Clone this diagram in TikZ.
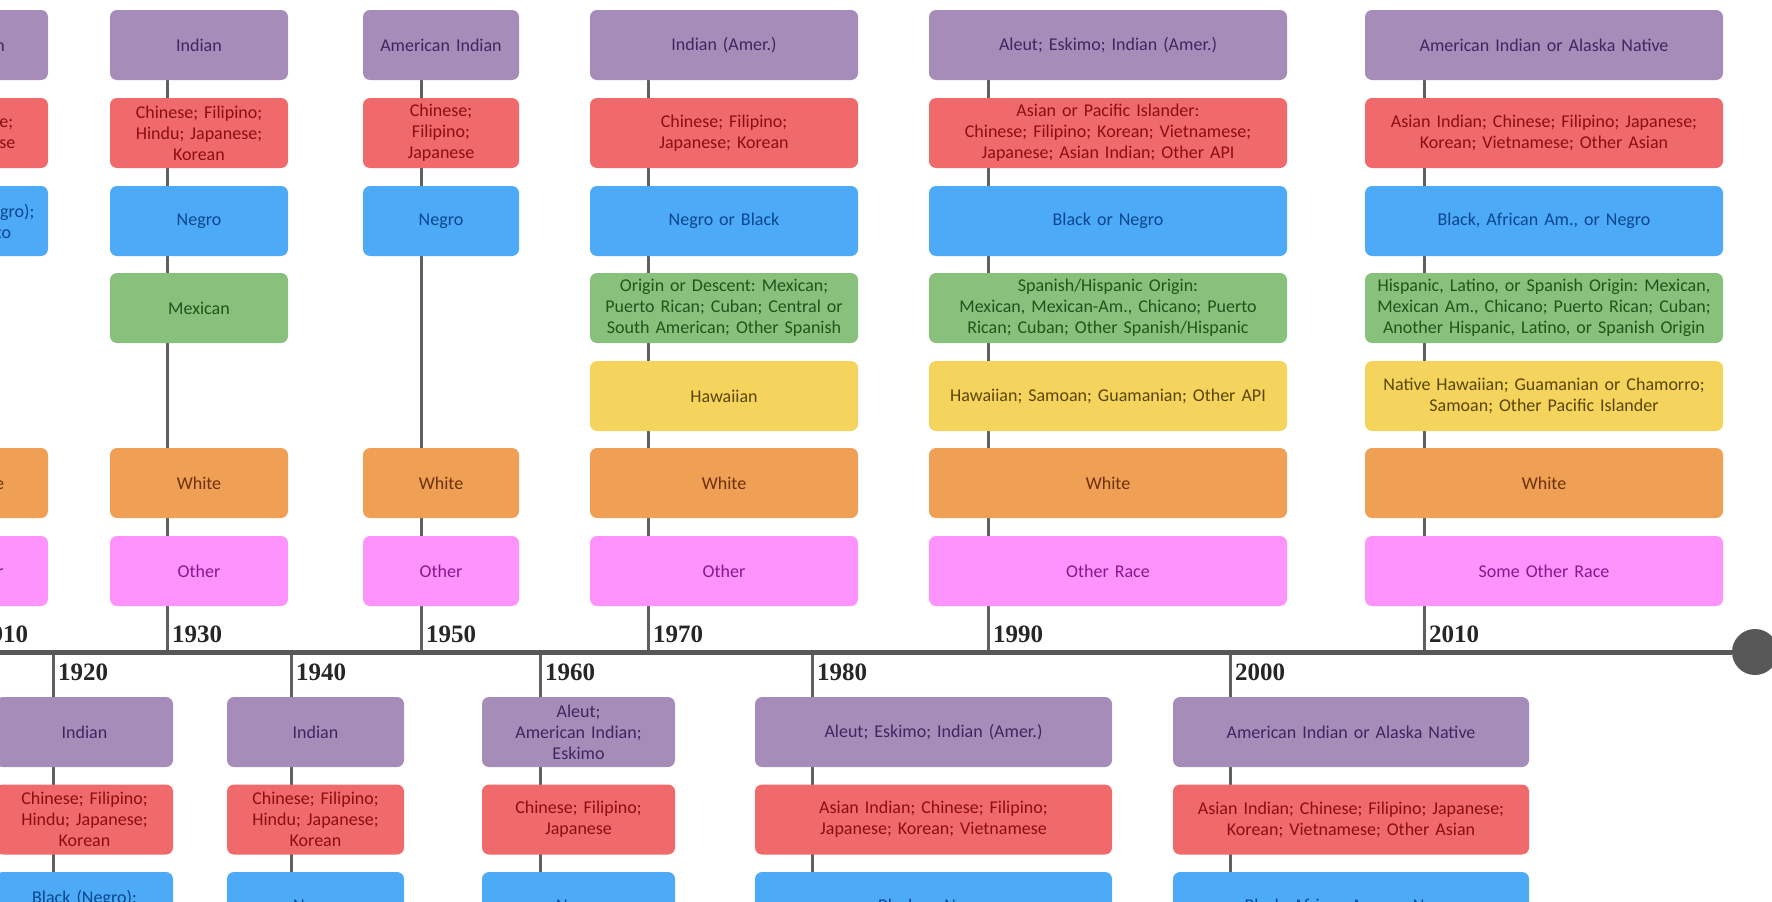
\documentclass[tikz,border=0pt]{standalone}
\usepackage{fontspec}
\setmainfont{Liberation Serif}
\newfontfamily\cellfont{Carlito}
\usetikzlibrary{backgrounds}
\frenchspacing

\definecolor{amindfill}{HTML}{A68CB9}
\definecolor{amindtext}{HTML}{3E2660}
\definecolor{asianfill}{HTML}{F0696B}
\definecolor{asiantext}{HTML}{8A0F14}
\definecolor{blackfill}{HTML}{4DAAF7}
\definecolor{blacktext}{HTML}{0A4690}
\definecolor{hispfill}{HTML}{87C17B}
\definecolor{hisptext}{HTML}{1E561C}
\definecolor{pacfill}{HTML}{F4D45C}
\definecolor{pactext}{HTML}{5A4508}
\definecolor{whitefill}{HTML}{F0A055}
\definecolor{whitetext}{HTML}{6A3209}
\definecolor{otherfill}{HTML}{FE93FD}
\definecolor{othertext}{HTML}{84188F}
\definecolor{stemgray}{HTML}{5F5F5F}
\definecolor{linegray}{HTML}{575757}

\begin{document}
\begin{tikzpicture}[x=1pt, y=-1pt,
    cell/.style={rounded corners=7pt, minimum height=70pt, inner xsep=0pt, inner ysep=0pt,
      align=center, font=\cellfont\fontsize{18}{21}\selectfont},
    colw/.style={text width=#1pt},
    amerind/.style={cell, fill=amindfill, text=amindtext},
    asianam/.style={cell, fill=asianfill, text=asiantext},
    blackam/.style={cell, fill=blackfill, text=blacktext},
    hispanic/.style={cell, fill=hispfill, text=hisptext},
    pacific/.style={cell, fill=pacfill, text=pactext},
    whitecat/.style={cell, fill=whitefill, text=whitetext},
    othercat/.style={cell, fill=otherfill, text=othertext},
    stem/.style={line width=3pt, draw=stemgray},
    yearlabel/.style={anchor=base west, inner sep=0pt, text=black!85,
      font=\bfseries\fontsize{25}{25}\selectfont}]
  \useasboundingbox (0,0) rectangle (1772,902);
  \clip (0,0) rectangle (1772,902);

  % Timeline
  \coordinate (tlstart) at (-20,652);
  \node[circle, fill=linegray, minimum size=46pt, inner sep=0pt] (tlend) at (1755,652) {};
  \draw[line width=5pt, linegray] (tlstart) -- (tlend);

  % 1910 (cut at the left edge)
  \node[amerind, colw=132] (a1910) at (-18,45) {Indian};
  \node[asianam, colw=132] (r1910) at (-18,133) {Chinese;\\Japanese};
  \node[blackam, colw=132] (b1910) at (-18,221) {Black (Negro);\\Mulatto};
  \node[whitecat, colw=132] (w1910) at (-18,483) {White};
  \node[othercat, colw=132] (o1910) at (-18,571) {Other};

  % 1930
  \node[amerind, colw=178] (a1930) at (199,45) {Indian};
  \node[asianam, colw=178] (r1930) at (199,133) {Chinese; Filipino;\\Hindu; Japanese;\\Korean};
  \node[blackam, colw=178] (b1930) at (199,221) {Negro};
  \node[hispanic, colw=178] (h1930) at (199,308) {Mexican};
  \node[whitecat, colw=178] (w1930) at (199,483) {White};
  \node[othercat, colw=178] (o1930) at (199,571) {Other};

  % 1950
  \node[amerind, colw=156] (a1950) at (441,45) {American Indian};
  \node[asianam, colw=156] (r1950) at (441,133) {Chinese;\\Filipino;\\Japanese};
  \node[blackam, colw=156] (b1950) at (441,221) {Negro};
  \node[whitecat, colw=156] (w1950) at (441,483) {White};
  \node[othercat, colw=156] (o1950) at (441,571) {Other};

  % 1970
  \node[amerind, colw=268] (a1970) at (724,45) {Indian (Amer.)};
  \node[asianam, colw=268] (r1970) at (724,133) {Chinese; Filipino;\\Japanese; Korean};
  \node[blackam, colw=268] (b1970) at (724,221) {Negro or Black};
  \node[hispanic, colw=268] (h1970) at (724,308) {Origin or Descent: Mexican;\\Puerto Rican; Cuban; Central or\\South American; Other Spanish};
  \node[pacific, colw=268] (p1970) at (724,396) {Hawaiian};
  \node[whitecat, colw=268] (w1970) at (724,483) {White};
  \node[othercat, colw=268] (o1970) at (724,571) {Other};

  % 1990
  \node[amerind, colw=358] (a1990) at (1108,45) {Aleut; Eskimo; Indian (Amer.)};
  \node[asianam, colw=358] (r1990) at (1108,133) {Asian or Pacific Islander:\\Chinese; Filipino; Korean; Vietnamese;\\Japanese; Asian Indian; Other API};
  \node[blackam, colw=358] (b1990) at (1108,221) {Black or Negro};
  \node[hispanic, colw=358] (h1990) at (1108,308) {Spanish/Hispanic Origin:\\Mexican, Mexican-Am., Chicano; Puerto\\Rican; Cuban; Other Spanish/Hispanic};
  \node[pacific, colw=358] (p1990) at (1108,396) {Hawaiian; Samoan; Guamanian; Other API};
  \node[whitecat, colw=358] (w1990) at (1108,483) {White};
  \node[othercat, colw=358] (o1990) at (1108,571) {Other Race};

  % 2010
  \node[amerind, colw=358] (a2010) at (1544,45) {American Indian or Alaska Native};
  \node[asianam, colw=358] (r2010) at (1544,133) {Asian Indian; Chinese; Filipino; Japanese;\\Korean; Vietnamese; Other Asian};
  \node[blackam, colw=358] (b2010) at (1544,221) {Black, African Am., or Negro};
  \node[hispanic, colw=358] (h2010) at (1544,308) {Hispanic, Latino, or Spanish Origin: Mexican,\\Mexican Am., Chicano; Puerto Rican; Cuban;\\Another Hispanic, Latino, or Spanish Origin};
  \node[pacific, colw=358] (p2010) at (1544,396) {Native Hawaiian; Guamanian or Chamorro;\\Samoan; Other Pacific Islander};
  \node[whitecat, colw=358] (w2010) at (1544,483) {White};
  \node[othercat, colw=358] (o2010) at (1544,571) {Some Other Race};

  % Below the line
  \node[amerind, colw=177] (a1920) at (84.5,732) {Indian};
  \node[asianam, colw=177] (r1920) at (84.5,819.5) {Chinese; Filipino;\\Hindu; Japanese;\\Korean};
  \node[blackam, colw=177] (b1920) at (84.5,907) {Black (Negro);\\Mulatto};

  \node[amerind, colw=177] (a1940) at (315.5,732) {Indian};
  \node[asianam, colw=177] (r1940) at (315.5,819.5) {Chinese; Filipino;\\Hindu; Japanese;\\Korean};
  \node[blackam, colw=177] (b1940) at (315.5,907) {Negro};

  \node[amerind, colw=193] (a1960) at (578.5,732) {Aleut;\\American Indian;\\Eskimo};
  \node[asianam, colw=193] (r1960) at (578.5,819.5) {Chinese; Filipino;\\Japanese};
  \node[blackam, colw=193] (b1960) at (578.5,907) {Negro};

  \node[amerind, colw=357] (a1980) at (933.5,732) {Aleut; Eskimo; Indian (Amer.)};
  \node[asianam, colw=357] (r1980) at (933.5,819.5) {Asian Indian; Chinese; Filipino;\\Japanese; Korean; Vietnamese};
  \node[blackam, colw=357] (b1980) at (933.5,907) {Black or Negro};

  \node[amerind, colw=356] (a2000) at (1351,732) {American Indian or Alaska Native};
  \node[asianam, colw=356] (r2000) at (1351,819.5) {Asian Indian; Chinese; Filipino; Japanese;\\Korean; Vietnamese; Other Asian};
  \node[blackam, colw=356] (b2000) at (1351,907) {Black, African Am., or Negro};

  % Stems and years
  \begin{scope}[on background layer]
    \foreach \yr/\tx in {1910/-27,1930/167,1950/421,1970/648,1990/988,2010/1424} {
      \coordinate (t\yr) at (\tx,652);
      \draw[stem] (t\yr) -- (t\yr |- a\yr.center);
    }
    \foreach \yr/\tx in {1920/53,1940/291,1960/540,1980/812,2000/1230} {
      \coordinate (t\yr) at (\tx,652);
      \draw[stem] (t\yr) -- (t\yr |- b\yr.center);
    }
  \end{scope}
  \foreach \yr in {1910,1930,1950,1970,1990,2010}
    \node[yearlabel] (y\yr) at ([xshift=5pt, yshift=10pt]t\yr) {\yr};
  \foreach \yr in {1920,1940,1960,1980,2000}
    \node[yearlabel] (y\yr) at ([xshift=5pt, yshift=-28pt]t\yr) {\yr};
\end{tikzpicture}
\end{document}
